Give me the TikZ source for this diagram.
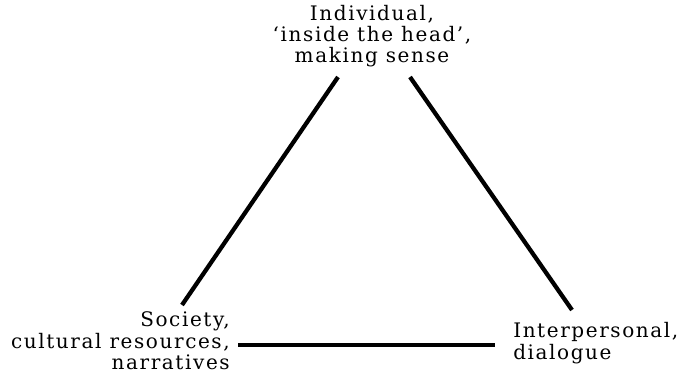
\documentclass[tikz,border=0pt]{standalone}
\usepackage{fontspec}
\setmainfont[LetterSpace=8]{DejaVu Serif}
\usetikzlibrary{positioning}

\begin{document}
\begin{tikzpicture}[x=0.75pt, y=-0.75pt,
    label text/.style={font=\fontsize{15}{16}\selectfont, inner sep=0pt},
    side/.style={line width=3.2pt, black}]
    % Canvas
    \useasboundingbox (0,0) rectangle (678,375);

    % Corner labels
    \node[label text, align=center] (individual) at (372,36)
        {Individual,\\ `inside the head',\\ making sense};
    \node[label text, align=right, anchor=east] (society) at (230,341)
        {Society,\\ cultural resources,\\ narratives};
    \node[label text, align=left, anchor=west] (interpersonal) at (513,343)
        {Interpersonal,\\ dialogue};

    % Line ends
    \coordinate (indL) at (338,77);
    \coordinate (indR) at (410,77);
    \coordinate (socT) at (182,305);
    \coordinate (socR) at (238,345);
    \coordinate (intT) at (572,310);
    \coordinate (intL) at (495,345);

    % Triangle sides
    \draw[side] (indL) -- (socT);
    \draw[side] (indR) -- (intT);
    \draw[side] (socR) -- (intL);
\end{tikzpicture}
\end{document}
